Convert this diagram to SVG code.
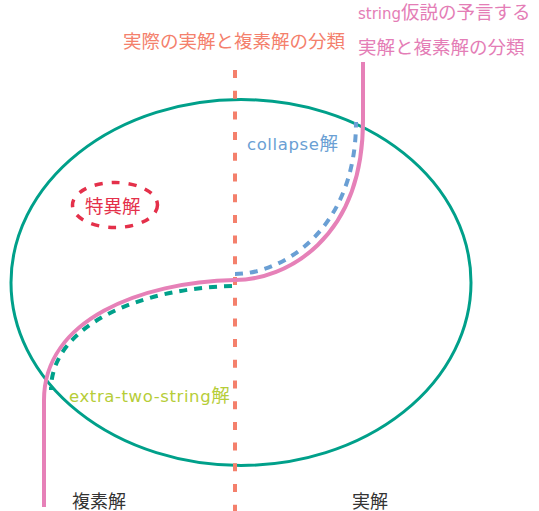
<svg xmlns="http://www.w3.org/2000/svg" width="539" height="511" viewBox="0 0 539 511">
<style>
text{font-family:"DejaVu Sans","Noto Sans CJK JP",sans-serif;font-size:18.5px}
.lat{font-size:16.5px;letter-spacing:0.6px}
.salmon{fill:#F4806C}.pink{fill:#E47DB6}.blue{fill:#6A9FD4}.red{fill:#E4304A}.lime{fill:#B6CD38}.dark{fill:#333333}
</style>
<rect width="539" height="511" fill="#ffffff"/>
<g id="solution-space">
<ellipse cx="241" cy="282.5" rx="230" ry="183" fill="none" stroke="#00A08A" stroke-width="3"/>
</g>
<g id="connectors" fill="none">
<line id="divider" x1="235" y1="70" x2="235" y2="511" stroke="#F4806C" stroke-width="4" stroke-dasharray="8 12.7"/>
<path id="collapse-curve" d="M235,274 C282,274 356,230 356,122" stroke="#6A9FD4" stroke-width="4" stroke-dasharray="8 7"/>
<path id="extra-curve" d="M232,286 C143,288 51,324 51,390" stroke="#00A08A" stroke-width="4" stroke-dasharray="8 7"/>
<path id="string-curve" d="M363,62 L363,120 C363,240 285,280 235,280 C140,282 44,320 44,400 L44,507" stroke="#E681B8" stroke-width="4"/>
</g>
<g id="singular">
<ellipse cx="115" cy="205" rx="42.5" ry="22.5" fill="none" stroke="#E4304A" stroke-width="3.5" stroke-dasharray="8 9"/>
<text class="red" x="85" y="213">特異解</text>
</g>
<g id="label-actual">
<text class="salmon" x="123" y="48">実際の実解と複素解の分類</text>
</g>
<g id="label-string">
<text class="pink" x="358" y="18.5"><tspan style="font-size:15px">string</tspan>仮説の予言する</text>
<text class="pink" x="358" y="54">実解と複素解の分類</text>
</g>
<g id="label-collapse">
<text class="blue" x="247" y="150"><tspan class="lat">collapse</tspan>解</text>
</g>
<g id="label-extra">
<text class="lime" x="69" y="402"><tspan class="lat">extra-two-string</tspan>解</text>
</g>
<g id="label-complex">
<text class="dark" x="72" y="508" style="font-size:18px">複素解</text>
</g>
<g id="label-real">
<text class="dark" x="352" y="508" style="font-size:18px">実解</text>
</g>
</svg>
